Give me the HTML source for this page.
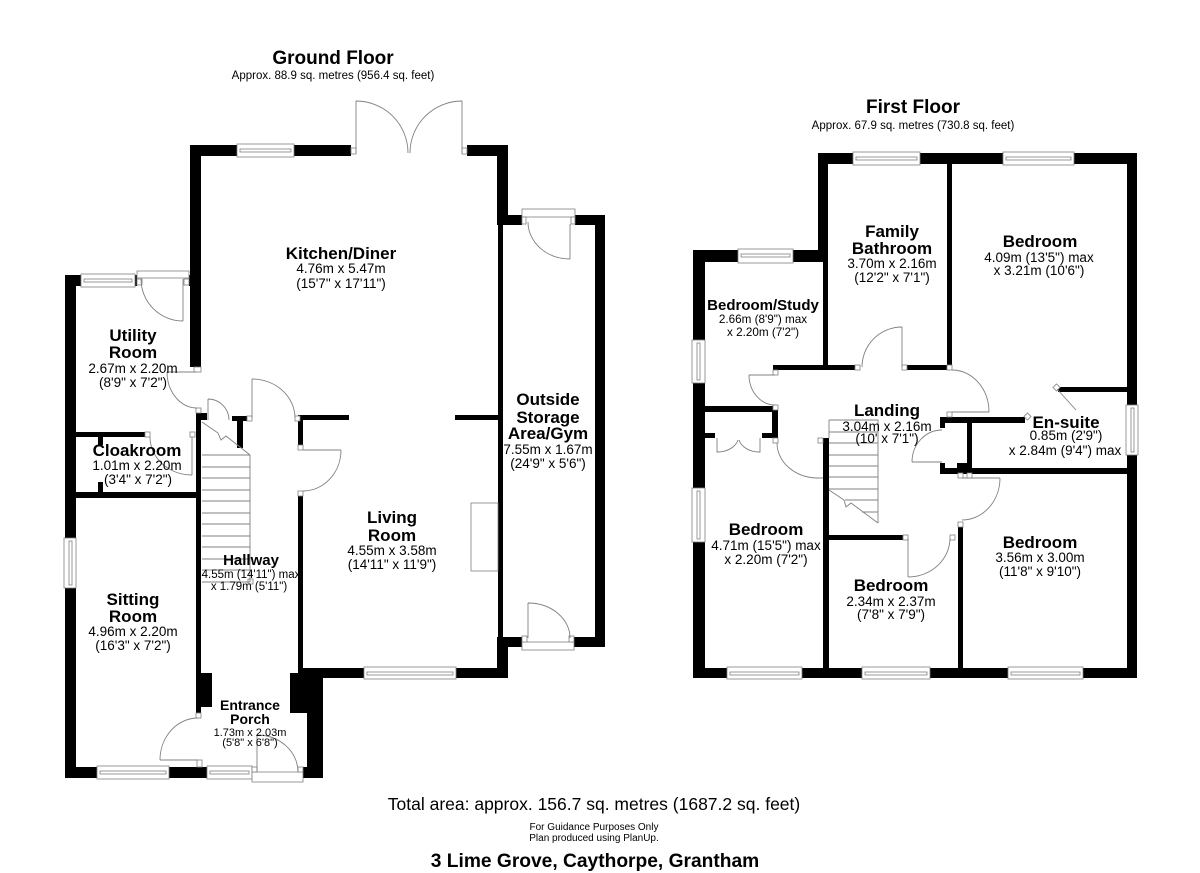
<!DOCTYPE html>
<html><head><meta charset="utf-8"><style>
html,body{margin:0;padding:0;background:#fff;}
svg{display:block;}
text{font-family:"Liberation Sans",Arial,sans-serif;fill:#000;text-anchor:middle;}
.b{font-weight:bold;font-size:17px;}
.d{font-size:13.5px;}
</style></head><body>
<svg width="1200" height="873" viewBox="0 0 1200 873" xmlns="http://www.w3.org/2000/svg">
<rect width="1200" height="873" fill="#fff"/>

<!-- ============ GROUND FLOOR WALLS ============ -->
<g fill="#000">
<rect x="190" y="145" width="161" height="11"/>
<rect x="467" y="145" width="41" height="11"/>
<rect x="190" y="145" width="11" height="222"/>
<rect x="497" y="145" width="11" height="80"/>
<rect x="497" y="215" width="108" height="10"/>
<rect x="595" y="215" width="10" height="432"/>
<rect x="497" y="637" width="108" height="10"/>
<rect x="498" y="225" width="5" height="412"/>
<rect x="497" y="637" width="11" height="41"/>
<rect x="298" y="668" width="210" height="10"/>
<rect x="298" y="415" width="51" height="5"/>
<rect x="455" y="415" width="43" height="5"/>
<rect x="298" y="415" width="5" height="30"/>
<rect x="298" y="496" width="5" height="172"/>
<rect x="65" y="275" width="125" height="11"/>
<rect x="65" y="275" width="11" height="503"/>
<rect x="76" y="432" width="70" height="5"/>
<rect x="98" y="437" width="5" height="8"/>
<rect x="65" y="492" width="136" height="6"/>
<rect x="98" y="482" width="5" height="10"/>
<rect x="196" y="413" width="5" height="300"/>
<rect x="200" y="413" width="7" height="7"/>
<rect x="232" y="416" width="15" height="5"/>
<rect x="237" y="416" width="6" height="32"/>
<rect x="200" y="673" width="12" height="34"/>
<rect x="65" y="767" width="258" height="11"/>
<rect x="290" y="673" width="33" height="40"/>
<rect x="307" y="668" width="16" height="110"/>
</g>

<!-- ============ FIRST FLOOR WALLS ============ -->
<g fill="#000">
<rect x="818" y="153" width="319" height="11"/>
<rect x="818" y="153" width="10" height="109"/>
<rect x="693" y="250" width="135" height="12"/>
<rect x="693" y="250" width="12" height="428"/>
<rect x="823" y="262" width="5" height="108"/>
<rect x="773" y="365" width="82" height="5"/>
<rect x="907" y="365" width="40" height="5"/>
<rect x="947" y="164" width="5" height="206"/>
<rect x="1127" y="153" width="10" height="525"/>
<rect x="693" y="668" width="444" height="10"/>
<rect x="940" y="417" width="85" height="6"/>
<rect x="940" y="417" width="5" height="11"/>
<rect x="940" y="463" width="5" height="11"/>
<rect x="957" y="463" width="15" height="11"/>
<rect x="967" y="417" width="5" height="57"/>
<rect x="940" y="468" width="197" height="6"/>
<rect x="1058" y="387" width="69" height="5"/>
<rect x="958" y="527" width="5" height="141"/>
<rect x="828" y="535" width="75" height="5"/>
<rect x="823" y="438" width="6" height="230"/>
<rect x="705" y="406" width="72" height="6"/>
<rect x="772" y="406" width="6" height="32"/>
<rect x="705" y="433" width="10" height="5"/>
<rect x="762" y="433" width="16" height="5"/>
</g>

<!-- white covers for openings -->
<g fill="#fff">
<rect x="351" y="144" width="116" height="13"/>
<rect x="137" y="274" width="52" height="13"/>
<rect x="522" y="214" width="53" height="12"/>
<rect x="522" y="636" width="52" height="12"/>
<rect x="252" y="766" width="51" height="13"/>
</g>

<!-- windows & frames -->
<g fill="#fff" stroke="#808080" stroke-width="0.8">
<!-- ground -->
<rect x="237" y="144" width="57" height="13"/><rect x="240" y="149" width="51" height="3"/>
<rect x="351" y="148" width="5" height="6"/><rect x="462" y="148" width="5" height="6"/>
<rect x="81" y="274" width="54" height="13"/><rect x="84" y="279" width="48" height="3"/>
<rect x="137" y="271" width="52" height="7"/><rect x="137" y="279" width="5" height="6"/><rect x="184" y="279" width="5" height="6"/>
<rect x="522" y="209" width="53" height="8"/><rect x="522" y="217" width="4" height="7"/><rect x="571" y="217" width="4" height="7"/>
<rect x="522" y="642" width="52" height="8"/><rect x="522" y="636" width="5" height="6"/><rect x="569" y="636" width="5" height="6"/>
<rect x="364" y="667" width="92" height="12"/><rect x="367" y="672" width="86" height="3"/>
<rect x="64" y="538" width="12" height="50"/><rect x="69" y="541" width="3" height="44"/>
<rect x="97" y="766" width="72" height="13"/><rect x="100" y="771" width="66" height="3"/>
<rect x="207" y="766" width="45" height="13"/><rect x="210" y="771" width="39" height="3"/>
<rect x="252" y="772" width="51" height="10"/><rect x="252" y="767" width="5" height="5"/><rect x="298" y="767" width="5" height="5"/>
<rect x="194" y="367" width="7" height="5"/>
<rect x="196" y="408" width="5" height="5"/>
<rect x="247" y="416" width="5" height="5"/>
<rect x="295" y="416" width="5" height="5"/>
<rect x="298" y="445" width="5" height="5"/>
<rect x="298" y="491" width="5" height="5"/>
<rect x="145" y="432" width="5" height="5"/>
<rect x="190" y="432" width="5" height="5"/>
<rect x="196" y="713" width="5" height="5"/>
<rect x="197" y="760" width="5" height="7"/>
<rect x="248" y="579" width="5" height="5"/>
<rect x="471" y="503" width="27" height="68" fill="none"/>
<!-- first -->
<rect x="853" y="152" width="67" height="13"/><rect x="856" y="157" width="61" height="3"/>
<rect x="1003" y="152" width="71" height="13"/><rect x="1006" y="157" width="65" height="3"/>
<rect x="738" y="249" width="55" height="14"/><rect x="741" y="254" width="49" height="3"/>
<rect x="692" y="340" width="13" height="43"/><rect x="697" y="343" width="3" height="37"/>
<rect x="692" y="488" width="13" height="54"/><rect x="697" y="491" width="3" height="48"/>
<rect x="1126" y="405" width="12" height="50"/><rect x="1131" y="408" width="3" height="44"/>
<rect x="727" y="667" width="75" height="12"/><rect x="730" y="672" width="69" height="3"/>
<rect x="862" y="667" width="68" height="12"/><rect x="865" y="672" width="62" height="3"/>
<rect x="1008" y="667" width="75" height="12"/><rect x="1011" y="672" width="69" height="3"/>
<rect x="773" y="370" width="5" height="5"/>
<rect x="855" y="365" width="5" height="5"/>
<rect x="902" y="365" width="5" height="5"/>
<rect x="947" y="365" width="5" height="5"/>
<rect x="773" y="405" width="5" height="5"/>
<rect x="947" y="412" width="5" height="5"/>
<rect x="773" y="438" width="5" height="5"/>
<rect x="818" y="438" width="5" height="5"/>
<rect x="903" y="535" width="5" height="5"/>
<rect x="950" y="535" width="5" height="5"/>
<rect x="958" y="522" width="5" height="5"/>
<rect x="958" y="473" width="5" height="5"/>
<rect x="967" y="473" width="5" height="5"/>
<rect x="1025" y="414" width="5" height="5" transform="rotate(45 1027.5 416.5)"/>
<rect x="1054" y="385" width="5" height="5" transform="rotate(45 1056.5 387.5)"/>
</g>

<!-- doors, stairs -->
<g fill="none" stroke="#808080" stroke-width="0.9">
<!-- ground doors -->
<path d="M356,153 V101 M356,101 A52,52 0 0 1 408,153"/>
<path d="M462,153 V101 M462,101 A52,52 0 0 0 410,153"/>
<path d="M570,224 V259 M528,222 A42,37 0 0 0 570,259"/>
<path d="M528,638 V603 M528,603 A42,35 0 0 1 570,638"/>
<path d="M183,279 V321 M141,279 A42,42 0 0 0 183,321"/>
<path d="M197,372 H167 M167,372 A30,36 0 0 0 197,408"/>
<path d="M192,437 V475 M150,437 A42,38 0 0 0 192,475"/>
<path d="M208,420 V399 M208,399 A21,21 0 0 1 229,420"/>
<path d="M252,418 V379 M252,379 A43,39 0 0 1 295,418"/>
<path d="M303,450 H341 M341,450 A38,41 0 0 1 303,491"/>
<path d="M198,760 H160 M160,760 A38,42 0 0 1 198,718"/>
<path d="M257,772 V735 M257,735 A41,37 0 0 1 298,772"/>
<!-- ground stairs -->
<path d="M250,455 V582 M202,582 H250"/>
<path d="M202,455 H250 M202,467 H250 M202,478 H250 M202,490 H250 M202,501 H250 M202,513 H250 M202,524 H250 M202,536 H250 M202,547 H250 M202,559 H250 M202,570 H250"/>
<path d="M202,422 L218,433 L221,440 L226,436 L250,455"/>
<!-- first doors -->
<path d="M902,367 V327 M902,327 A40,40 0 0 0 862,367"/>
<path d="M775,375 H749 M749,375 A26,30 0 0 0 775,405"/>
<path d="M952,412 H989 M952,370 A37,42 0 0 1 989,412"/>
<path d="M942,462 H912 M912,462 A30,32 0 0 1 942,430"/>
<path d="M1057,389 L1076,410"/>
<path d="M962,478 H1000 M1000,478 A38,42 0 0 1 962,520"/>
<path d="M908,538 V577 M908,577 A42,39 0 0 0 950,538"/>
<path d="M777,443 A41,35 0 0 0 818,478 H823"/>
<path d="M717,438 V452 A21,16 0 0 0 738,440 M760,438 V452 A21,16 0 0 1 739,440"/>
<!-- first stairs -->
<path d="M829,420 H878 V523 M829,420 V438"/>
<path d="M829,432 H878 M829,443 H878 M829,455 H878 M829,466 H878 M829,477 H878 M829,489 H878 M845,500 H878 M862,512 H878"/>
<path d="M829,490 L844,500 L846,507 L851,503 L878,523"/>
</g>

<!-- ============ TEXT ============ -->
<text x="333" y="64" style="font-size:19px;font-weight:bold">Ground Floor</text>
<text x="333" y="79" style="font-size:11.5px">Approx. 88.9 sq. metres (956.4 sq. feet)</text>
<text x="913" y="113" style="font-size:19px;font-weight:bold">First Floor</text>
<text x="913" y="129" style="font-size:11.5px">Approx. 67.9 sq. metres (730.8 sq. feet)</text>

<text class="b" x="341" y="259">Kitchen/Diner</text>
<text class="d" x="341" y="273">4.76m x 5.47m</text>
<text class="d" x="341" y="288">(15'7" x 17'11")</text>

<text class="b" x="133" y="341">Utility</text>
<text class="b" x="133" y="358">Room</text>
<text class="d" x="133" y="373">2.67m x 2.20m</text>
<text class="d" x="133" y="387">(8'9" x 7'2")</text>

<text class="b" x="137" y="456">Cloakroom</text>
<text class="d" x="137" y="470">1.01m x 2.20m</text>
<text class="d" x="138" y="484">(3'4" x 7'2")</text>

<text class="b" x="133" y="605">Sitting</text>
<text class="b" x="133" y="622">Room</text>
<text class="d" x="133" y="636">4.96m x 2.20m</text>
<text class="d" x="133" y="650">(16'3" x 7'2")</text>

<text x="251" y="565" style="font-size:15px;font-weight:bold">Hallway</text>
<text x="251" y="578" style="font-size:11.5px">4.55m (14'11") max</text>
<text x="249" y="590" style="font-size:11.5px">x 1.79m (5'11")</text>

<text class="b" x="392" y="523">Living</text>
<text class="b" x="392" y="541">Room</text>
<text class="d" x="392" y="555">4.55m x 3.58m</text>
<text class="d" x="392" y="569">(14'11" x 11'9")</text>

<text class="b" x="548" y="405">Outside</text>
<text class="b" x="548" y="423">Storage</text>
<text class="b" x="548" y="439">Area/Gym</text>
<text class="d" x="548" y="454">7.55m x 1.67m</text>
<text class="d" x="548" y="468">(24'9" x 5'6")</text>

<text x="250" y="710" style="font-size:14px;font-weight:bold">Entrance</text>
<text x="250" y="724" style="font-size:14px;font-weight:bold">Porch</text>
<text x="250" y="736" style="font-size:11px">1.73m x 2.03m</text>
<text x="250" y="746" style="font-size:11px">(5'8" x 6'8")</text>

<text class="b" x="892" y="237">Family</text>
<text class="b" x="892" y="254">Bathroom</text>
<text class="d" x="892" y="268">3.70m x 2.16m</text>
<text class="d" x="892" y="282">(12'2" x 7'1")</text>

<text class="b" x="1040" y="247">Bedroom</text>
<text class="d" x="1039" y="262">4.09m (13'5") max</text>
<text class="d" x="1039" y="275">x 3.21m (10'6")</text>

<text x="763" y="310" style="font-size:15px;font-weight:bold">Bedroom/Study</text>
<text x="763" y="323" style="font-size:11.7px">2.66m (8'9") max</text>
<text x="763" y="336" style="font-size:11.7px">x 2.20m (7'2")</text>

<text class="b" x="887" y="416">Landing</text>
<text class="d" x="887" y="431">3.04m x 2.16m</text>
<text class="d" x="887" y="443">(10' x 7'1")</text>

<text class="b" x="1066" y="428">En-suite</text>
<text class="d" x="1066" y="440">0.85m (2'9")</text>
<text class="d" x="1065" y="455">x 2.84m (9'4") max</text>

<text class="b" x="766" y="535">Bedroom</text>
<text class="d" x="766" y="550">4.71m (15'5") max</text>
<text class="d" x="766" y="564">x 2.20m (7'2")</text>

<text class="b" x="891" y="591">Bedroom</text>
<text class="d" x="891" y="606">2.34m x 2.37m</text>
<text class="d" x="891" y="619">(7'8" x 7'9")</text>

<text class="b" x="1040" y="548">Bedroom</text>
<text class="d" x="1040" y="562">3.56m x 3.00m</text>
<text class="d" x="1040" y="576">(11'8" x 9'10")</text>

<text x="594" y="810" style="font-size:17.5px">Total area: approx. 156.7 sq. metres (1687.2 sq. feet)</text>
<text x="594" y="830" style="font-size:10px">For Guidance Purposes Only</text>
<text x="594" y="841" style="font-size:10px">Plan produced using PlanUp.</text>
<text x="595" y="867" style="font-size:19.2px;font-weight:bold">3 Lime Grove, Caythorpe, Grantham</text>
</svg>
</body></html>
